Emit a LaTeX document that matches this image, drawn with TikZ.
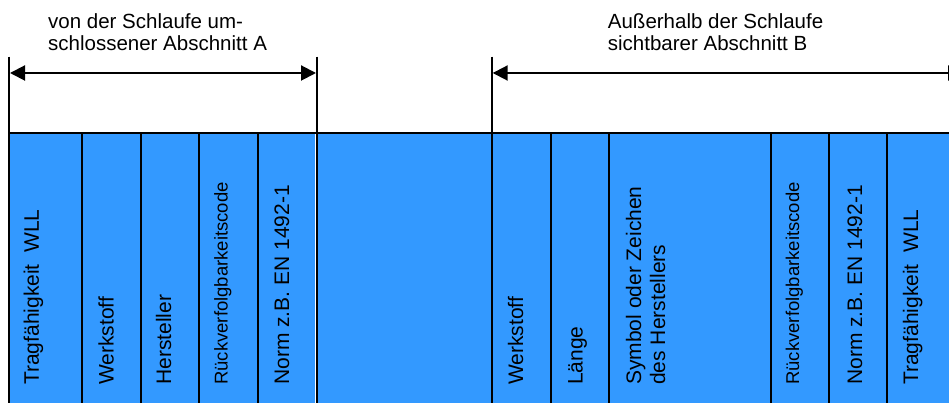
\documentclass[tikz,border=0pt]{standalone}
\usepackage{fontspec}
\setmainfont{Liberation Sans}
\usetikzlibrary{arrows.meta}
\definecolor{bandblue}{RGB}{51,153,255}
\begin{document}
\begin{tikzpicture}[x=1pt,y=1pt,
  rule/.style={line width=2pt, black},
  dimline/.style={line width=2pt, {Triangle[length=15pt,width=15pt]}-{Triangle[length=15pt,width=15pt]}},
  vlabel/.style={rotate=90, anchor=base west, inner sep=0pt, align=left, font=\fontsize{21}{24}\selectfont},
  vsmall/.style={vlabel, font=\fontsize{18.5}{21}\selectfont},
  hlabel/.style={anchor=base west, inner sep=0pt, align=left, font=\fontsize{20.5}{22.5}\selectfont}]
\useasboundingbox (0,0) rectangle (949,403);
\clip (0,0) rectangle (949,403);
% blue band
\fill[bandblue] (9,0) rectangle (949,270);
% top line of band
\draw[rule] (8,269.7) -- (949,269.7);
% long verticals (section borders)
\draw[rule] (9,346.3) -- (9,0);
\draw[rule] (317,346.3) -- (317,0);
\draw[white, line width=1pt] (315.4,0) -- (315.4,268.7);
\draw[rule] (491.7,346.3) -- (491.7,0);
% column lines
\foreach \cx in {81.7,141.3,199,258.3,550.7,609,771,829.3,887.3}
  \draw[rule] (\cx,269.7) -- (\cx,0);
% dimension arrows
\coordinate (a1) at (10,330);
\coordinate (a2) at (316,330);
\coordinate (b1) at (492.7,330);
\coordinate (b2) at (963,330);
\draw[dimline] (a1) -- (a2);
\draw[dimline] (b1) -- (b2);
% headings (base anchor = last line)
\node[hlabel] (ha) at (48,352) {von der Schlaufe um-\\schlossener Abschnitt A};
\node[hlabel] (hb) at (607.7,352) {Außerhalb der Schlaufe\\sichtbarer Abschnitt B};
% vertical labels section A
\node[vlabel] (t1) at (39,18) {Tragfähigkeit\ \ WLL};
\node[vlabel] (t2) at (113.5,18) {Werkstoff};
\node[vlabel] (t3) at (171,18) {Hersteller};
\node[vsmall] (t4) at (227.5,18) {Rückverfolgbarkeitscode};
\node[vlabel] (t5) at (289,18) {Norm z.B. EN 1492-1};
% vertical labels section B
\node[vlabel] (u1) at (523,18) {Werkstoff};
\node[vlabel] (u2) at (582.5,18) {Länge};
\node[vlabel] (u3) at (665,18) {Symbol oder Zeichen\\des Herstellers};
\node[vsmall] (u4) at (799,18) {Rückverfolgbarkeitscode};
\node[vlabel] (u5) at (862,18) {Norm z.B. EN 1492-1};
\node[vlabel] (u6) at (918,18) {Tragfähigkeit\ \ WLL};
\end{tikzpicture}
\end{document}
